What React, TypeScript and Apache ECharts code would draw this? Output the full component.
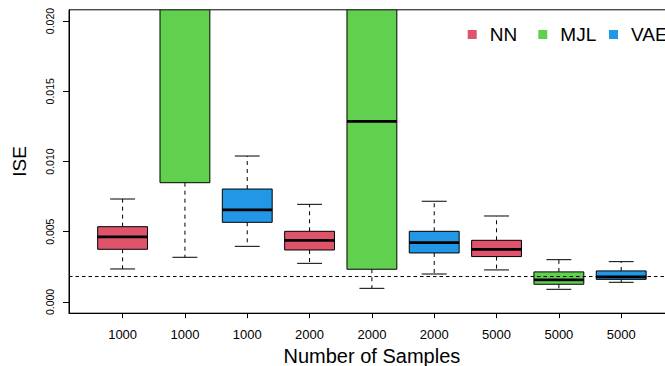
import React, { useEffect, useRef } from "react";
import * as echarts from "echarts";

// ---- data ----
const categories = ["1000", "1000", "1000", "2000", "2000", "2000", "5000", "5000", "5000"];
const groups = ["NN", "MJL", "VAE", "NN", "MJL", "VAE", "NN", "MJL", "VAE"];
const lowerWhisker = [0.00235, 0.00318, 0.00396, 0.00275, 0.00097, 0.00199, 0.00228, 0.0009, 0.0014];
const q1 = [0.00375, 0.00849, 0.00567, 0.0037, 0.00233, 0.00349, 0.00323, 0.00126, 0.00161];
const median = [0.00463, 0.025, 0.00655, 0.00439, 0.01285, 0.00422, 0.00375, 0.00157, 0.00178];
const q3 = [0.00536, 0.04, 0.00804, 0.00503, 0.03, 0.00503, 0.00439, 0.00214, 0.00221];
const upperWhisker = [0.00733, 0.07, 0.01039, 0.00695, 0.055, 0.00717, 0.00612, 0.00301, 0.00287];
const referenceLine = 0.00181;
const yTicks = [0, 0.005, 0.01, 0.015, 0.02];
const xTicks = [1, 2, 3, 4, 5, 6, 7, 8, 9];
const legendNames = ["NN", "MJL", "VAE"];
const groupColors: Record<string, string> = { NN: "#DF536B", MJL: "#61D04F", VAE: "#2297E6" };

const FONT = "Liberation Sans, Arial, Helvetica, sans-serif";

function renderBox(params: any, api: any) {
  const x = api.value(0);
  const cs = params.coordSys;
  const top = cs.y;
  const bottom = cs.y + cs.height;
  const inside = (py: number) => py >= top - 0.5 && py <= bottom + 0.5;
  const clampY = (py: number) => Math.max(top, Math.min(bottom, py));
  const yOf = (v: number) => api.coord([x, v])[1];
  const xl = api.coord([x - 0.4, 0])[0];
  const xr = api.coord([x + 0.4, 0])[0];
  const xc = api.coord([x, 0])[0];
  const capL = api.coord([x - 0.2, 0])[0];
  const capR = api.coord([x + 0.2, 0])[0];
  const pLw = yOf(api.value(1));
  const pQ1 = yOf(api.value(2));
  const pMed = yOf(api.value(3));
  const pQ3 = yOf(api.value(4));
  const pUw = yOf(api.value(5));
  const fill = groupColors[groups[Math.round(x) - 1]];
  const children: any[] = [];
  const a1 = clampY(pQ1), b1 = clampY(pLw);
  if (Math.abs(a1 - b1) > 0.5) {
    children.push({ type: "line", shape: { x1: xc, y1: a1, x2: xc, y2: b1 }, style: { stroke: "#000", lineWidth: 1, lineDash: [4, 4] } });
  }
  if (inside(pLw)) {
    children.push({ type: "line", shape: { x1: capL, y1: pLw, x2: capR, y2: pLw }, style: { stroke: "#000", lineWidth: 1 } });
  }
  const a2 = clampY(pQ3), b2 = clampY(pUw);
  if (Math.abs(a2 - b2) > 0.5) {
    children.push({ type: "line", shape: { x1: xc, y1: a2, x2: xc, y2: b2 }, style: { stroke: "#000", lineWidth: 1, lineDash: [4, 4] } });
  }
  if (inside(pUw)) {
    children.push({ type: "line", shape: { x1: capL, y1: pUw, x2: capR, y2: pUw }, style: { stroke: "#000", lineWidth: 1 } });
  }
  const bt = clampY(pQ3), bb = clampY(pQ1);
  children.push({
    type: "rect",
    shape: { x: xl, y: bt, width: xr - xl, height: bb - bt },
    style: { fill, stroke: "#000", lineWidth: 1 },
  });
  if (inside(pMed)) {
    children.push({ type: "line", shape: { x1: xl, y1: pMed, x2: xr, y2: pMed }, style: { stroke: "#000", lineWidth: 2.8 } });
  }
  return { type: "group", children };
}

export default function App() {
  const ref = useRef<HTMLDivElement>(null);
  useEffect(() => {
    if (!ref.current) return;
    const chart = echarts.init(ref.current, undefined, { renderer: "svg" });
    const boxSeries = legendNames.map((g) => ({
      name: g,
      type: "custom",
      clip: true,
      itemStyle: { color: groupColors[g] },
      renderItem: renderBox,
      encode: { x: 0, y: [1, 2, 3, 4, 5] },
      data: categories
        .map((_, i) => i)
        .filter((i) => groups[i] === g)
        .map((i) => [i + 1, lowerWhisker[i], q1[i], median[i], q3[i], upperWhisker[i]]),
      z: 2,
    }));
    const legendLefts = [467.7, 538.3, 609];
    chart.setOption({
      animation: false,
      backgroundColor: "#fff",
      textStyle: { fontFamily: FONT },
      grid: {
        left: 69,
        top: 9.8,
        right: -9.8,
        bottom: 52.8,
        containLabel: false,
        outerBoundsMode: "none",
        show: true,
        borderColor: "#000",
        borderWidth: 1,
        backgroundColor: "transparent",
      },
      legend: legendNames.map((g, k) => ({
        left: legendLefts[k],
        top: 25,
        padding: 0,
        selectedMode: false,
        itemWidth: 9,
        itemHeight: 9,
        itemGap: 0,
        textStyle: { fontSize: 19, color: "#000", fontFamily: FONT, padding: [0, 0, 0, 8] },
        data: [{ name: g, icon: "rect", itemStyle: { color: groupColors[g] } }],
      })),
      xAxis: {
        type: "value",
        min: 0.14,
        max: 9.86,
        splitLine: { show: false },
        axisLine: { show: true, onZero: false, lineStyle: { color: "#000", width: 1 } },
        axisTick: { show: true, customValues: xTicks, length: 5, lineStyle: { color: "#000" } },
        axisLabel: {
          customValues: xTicks,
          formatter: (v: number) => categories[Math.round(v) - 1],
          fontSize: 13,
          color: "#000",
          fontFamily: FONT,
          margin: 14.5,
        },
        name: "Number of Samples",
        nameLocation: "middle",
        nameGap: 31,
        nameTextStyle: { fontSize: 20, color: "#000", fontFamily: FONT },
      },
      yAxis: {
        type: "value",
        min: -0.0008,
        max: 0.0208,
        splitLine: { show: false },
        axisLine: { show: true, onZero: false, lineStyle: { color: "#000", width: 1 } },
        axisTick: { show: true, customValues: yTicks, length: 6, lineStyle: { color: "#000" } },
        axisLabel: {
          customValues: yTicks,
          formatter: (v: number) => v.toFixed(3),
          rotate: 90,
          fontSize: 10.5,
          color: "#000",
          fontFamily: FONT,
          margin: 14,
        },
        name: "ISE",
        nameLocation: "middle",
        nameRotate: 90,
        nameGap: 40,
        nameTextStyle: { fontSize: 19, color: "#000", fontFamily: FONT },
      },
      series: [
        ...boxSeries,
        {
          name: "reference",
          type: "line",
          symbol: "none",
          silent: true,
          z: 5,
          lineStyle: { color: "#000", width: 1, type: [3.5, 3] },
          data: [
            [0.14, referenceLine],
            [9.86, referenceLine],
          ],
        },
      ],
    });
    return () => chart.dispose();
  }, []);
  return <div ref={ref} style={{ position: "fixed", left: 0, top: 0, width: 665, height: 366 }} />;
}
